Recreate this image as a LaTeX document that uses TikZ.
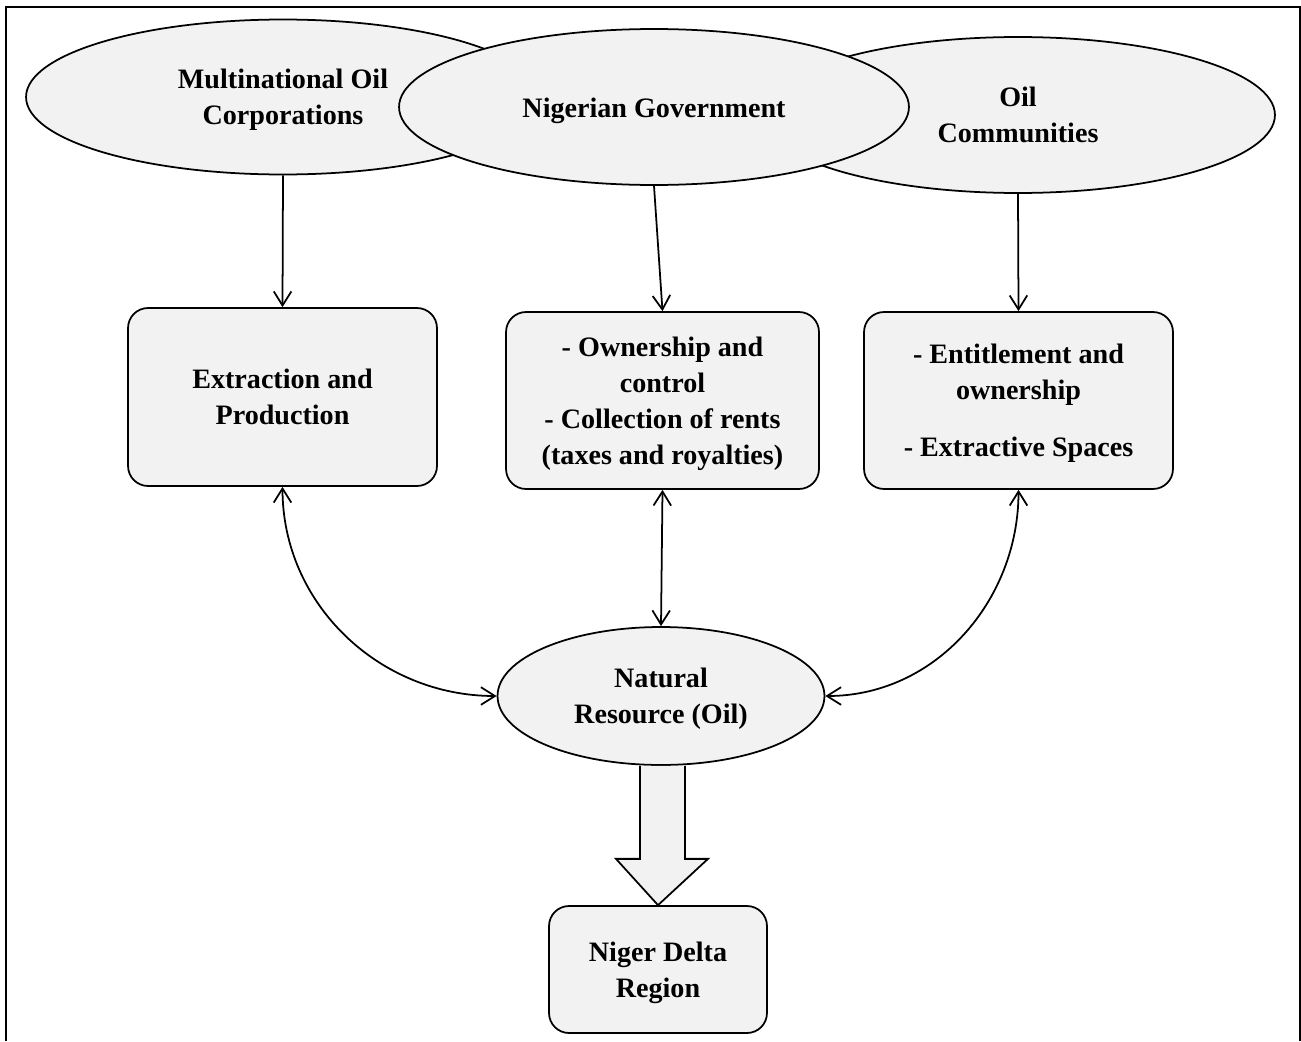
\documentclass[tikz,border=0pt]{standalone}
\usepackage{fontspec}
\setmainfont{Liberation Serif}
\usetikzlibrary{shapes.geometric,arrows.meta,calc}
\definecolor{paleGray}{HTML}{F2F2F2}
\begin{document}
\begin{tikzpicture}[x=0.02cm, y=-0.02cm, line width=1pt,
    >={Straight Barb[length=8pt,width=10pt]},
    every node/.style={font=\bfseries\fontsize{16}{20.4}\selectfont, align=center,
      text depth=0pt, execute at begin node={\rule{0pt}{12.5pt}}},
    oval/.style={ellipse, draw, fill=paleGray, inner sep=0pt},
    card/.style={rectangle, draw, fill=paleGray, rounded corners=0.4cm, inner sep=0pt}]

  \useasboundingbox (0,0) rectangle (1301,1041);
  \draw[line width=0.8pt] (6,1041) |- (1300,7) -- (1300,1041);

  % the three actors
  \node[oval, minimum width=10.28cm, minimum height=3.1cm] (mnc) at (283,97) {Multinational Oil\\Corporations};
  \node[oval, minimum width=10.28cm, minimum height=3.12cm] (comm) at (1018,115) {Oil\\Communities};
  \node[oval, minimum width=10.2cm, minimum height=3.12cm] (gov) at (654,107) {Nigerian Government};

  % what each one does
  \node[card, minimum width=6.18cm, minimum height=3.56cm] (extr) at (282.5,397) {Extraction and\\Production};
  \node[card, minimum width=6.26cm, minimum height=3.54cm] (own) at (662.5,400.5) {- Ownership and\\control\\- Collection of rents\\(taxes and royalties)};
  \node[card, minimum width=6.18cm, minimum height=3.54cm] (ent) at (1018.5,400.5) {- Entitlement and\\ownership\\[0.42cm]- Extractive Spaces};

  \node[oval, minimum width=6.54cm, minimum height=2.76cm] (res) at (661,696) {Natural\\Resource (Oil)};
  \node[card, minimum width=4.36cm, minimum height=2.54cm] (delta) at (658,969.5) {Niger Delta\\Region};

  \draw[->] (mnc.south) -- (extr.north);
  \draw[->] (gov.south) -- (own.north);
  \draw[->] (comm.south) -- (ent.north);

  \draw[<->] (own.south) -- (res.north);
  \draw[<->] (extr.south) to[out=-90, in=180] (res.west);
  \draw[<->] (ent.south) to[out=-90, in=0] (res.east);

  % block arrow down to the region
  \draw[fill=paleGray] ($(res.south)+(-21,0)$) -- ($(res.south)+(-21,93)$) -- ($(res.south)+(-45,93)$)
    -- (delta.north) -- ($(res.south)+(47,93)$) -- ($(res.south)+(24,93)$) -- ($(res.south)+(24,0)$);
\end{tikzpicture}
\end{document}
